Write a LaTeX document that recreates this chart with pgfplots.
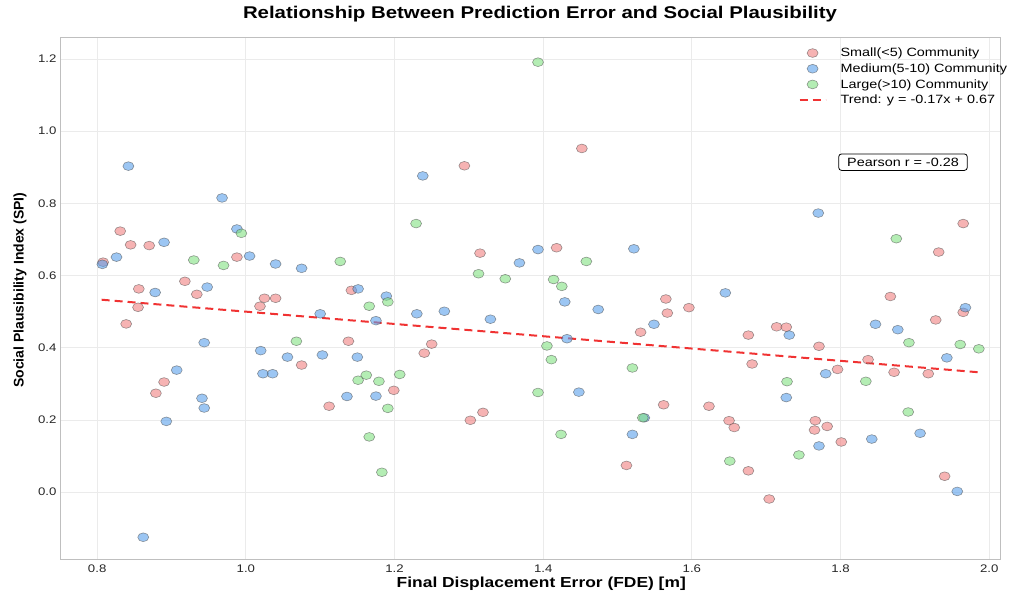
\documentclass[border=0pt]{standalone}
\usepackage{fontspec}
\setmainfont{Liberation Sans}[FakeStretch=1.2]
\newfontfamily\ylabfont{Liberation Sans}
\usepackage{pgfplots}
\pgfplotsset{compat=1.18}
\definecolor{pinkc}{RGB}{240,128,128}
\definecolor{bluec}{RGB}{90,160,235}
\definecolor{greenc}{RGB}{130,225,130}
\definecolor{trendc}{RGB}{240,50,50}
\pgfplotsset{
  markleg/.style={legend image code/.code={\draw[##1] plot coordinates {(13pt,0pt)};}},
  lineleg/.style={legend image code/.code={\draw[##1] (0pt,0pt) -- (26pt,0pt);}},
}
\begin{document}
\begin{tikzpicture}
\path[use as bounding box] (-60pt,-36pt) rectangle (954pt,560pt);
\begin{axis}[
  at={(0,0)}, anchor=south west,
  scale only axis, width=940pt, height=522pt,
  xmin=0.75, xmax=2.0145, ymin=-0.188, ymax=1.258,
  xtick={0.8,1.0,1.2,1.4,1.6,1.8,2.0},
  ytick={0,0.2,0.4,0.6,0.8,1.0,1.2},
  tick label style={font=\fontsize{11}{13}\selectfont, text=black!85,
    /pgf/number format/fixed, /pgf/number format/fixed zerofill,
    /pgf/number format/precision=1, /pgf/number format/assume math mode=true},
  grid=major, major grid style={draw=black!8, line width=0.8pt},
  axis line style={draw=black!25, line width=1pt},
  major tick length=0pt,
  xticklabel style={yshift=-1pt},
  yticklabel style={xshift=0pt},
  xlabel={\bfseries Final Displacement Error (FDE) [m]},
  xlabel style={font=\fontsize{14.5}{16}\selectfont, at={(axis description cs:0.512,-0.046)}, anchor=center},
  ylabel={\ylabfont\bfseries Social Plausibility Index (SPI)},
  ylabel style={font=\fontsize{14}{16}\selectfont, at={(axis description cs:-0.0426,0.517)}, anchor=center},
  legend style={at={(axis description cs:1.013,0.989)}, anchor=north east, draw=none, fill=none,
    font=\fontsize{12}{13}\selectfont, row sep=1.5pt, column sep=12pt, nodes={inner sep=2pt}},
  legend cell align=left,
]
\addplot[only marks, mark=*, mark size=4.4pt, markleg,
  mark options={xscale=1.25, fill=pinkc, fill opacity=0.6, draw=black!70, draw opacity=0.55, line width=0.6pt}]
coordinates {
(0.808,0.637) (0.831,0.723) (0.845,0.685) (0.870,0.683) (0.856,0.563) (0.918,0.584)
(0.934,0.548) (0.855,0.512) (0.839,0.466) (0.988,0.651) (1.019,0.515) (1.025,0.537)
(1.040,0.537) (1.075,0.352) (0.890,0.305) (0.879,0.274) (1.294,0.904) (1.315,0.662)
(1.142,0.559) (1.138,0.418) (1.250,0.410) (1.240,0.385) (1.199,0.282) (1.112,0.238)
(1.302,0.199) (1.319,0.221) (1.452,0.952) (1.418,0.677) (1.565,0.535) (1.596,0.511)
(1.567,0.496) (1.531,0.443) (1.676,0.435) (1.681,0.355) (1.562,0.242) (1.623,0.238)
(1.650,0.198) (1.657,0.179) (1.512,0.074) (1.676,0.059) (1.704,-0.019) (1.965,0.744)
(1.932,0.665) (1.867,0.542) (1.965,0.498) (1.928,0.477) (1.714,0.458) (1.727,0.457)
(1.771,0.404) (1.837,0.367) (1.796,0.340) (1.872,0.332) (1.918,0.328) (1.766,0.198)
(1.765,0.172) (1.782,0.182) (1.801,0.139) (1.940,0.044)
};
\addlegendentry{Small(<5) Community}
\addplot[only marks, mark=*, mark size=4.4pt, markleg,
  mark options={xscale=1.25, fill=bluec, fill opacity=0.6, draw=black!70, draw opacity=0.55, line width=0.6pt}]
coordinates {
(0.842,0.903) (0.968,0.815) (0.890,0.692) (0.826,0.651) (0.807,0.631) (0.988,0.729)
(1.005,0.654) (1.040,0.632) (1.075,0.620) (0.878,0.553) (0.948,0.568) (0.944,0.414)
(1.020,0.392) (1.056,0.374) (1.023,0.328) (1.036,0.328) (0.907,0.338) (0.941,0.260)
(0.944,0.233) (0.893,0.196) (0.862,-0.125) (1.238,0.876) (1.393,0.672) (1.368,0.635)
(1.151,0.563) (1.189,0.543) (1.100,0.494) (1.175,0.475) (1.230,0.494) (1.267,0.501)
(1.329,0.479) (1.103,0.380) (1.150,0.374) (1.136,0.265) (1.175,0.266) (1.522,0.674)
(1.429,0.527) (1.474,0.506) (1.549,0.465) (1.645,0.552) (1.432,0.425) (1.448,0.277)
(1.536,0.206) (1.520,0.160) (1.770,0.773) (1.968,0.511) (1.847,0.465) (1.877,0.450)
(1.731,0.435) (1.943,0.372) (1.780,0.328) (1.727,0.262) (1.771,0.128) (1.842,0.147)
(1.907,0.163) (1.957,0.002)
};
\addlegendentry{Medium(5-10) Community}
\addplot[only marks, mark=*, mark size=4.4pt, markleg,
  mark options={xscale=1.25, fill=greenc, fill opacity=0.6, draw=black!70, draw opacity=0.55, line width=0.6pt}]
coordinates {
(0.994,0.717) (0.930,0.643) (0.970,0.628) (1.068,0.418) (1.229,0.744) (1.127,0.639)
(1.313,0.605) (1.349,0.591) (1.191,0.527) (1.166,0.515) (1.162,0.324) (1.151,0.310)
(1.179,0.307) (1.207,0.326) (1.191,0.232) (1.166,0.153) (1.183,0.055) (1.393,0.276)
(1.393,1.191) (1.458,0.639) (1.414,0.589) (1.425,0.570) (1.405,0.405) (1.411,0.367)
(1.520,0.344) (1.534,0.206) (1.424,0.160) (1.651,0.086) (1.875,0.702) (1.892,0.414)
(1.961,0.409) (1.986,0.397) (1.728,0.306) (1.834,0.307) (1.891,0.222) (1.744,0.103)
};
\addlegendentry{Large(>10) Community}
\addplot[trendc, line width=2pt, dash pattern=on 8pt off 5pt, no marks, lineleg]
coordinates {(0.806,0.533) (1.986,0.332)};
\addlegendentry{Trend: y = -0.17x + 0.67}
\node[draw=black, line width=0.8pt, rounded corners=3pt, fill=white, inner xsep=8.5pt, inner ysep=4pt,
  font=\fontsize{12}{13}\selectfont] at (axis cs:1.884,0.914) {Pearson r = -0.28};
\end{axis}
\node[font=\bfseries\fontsize{17}{20}\selectfont] at (480pt,546pt)
  {Relationship Between Prediction Error and Social Plausibility};
\end{tikzpicture}
\end{document}
